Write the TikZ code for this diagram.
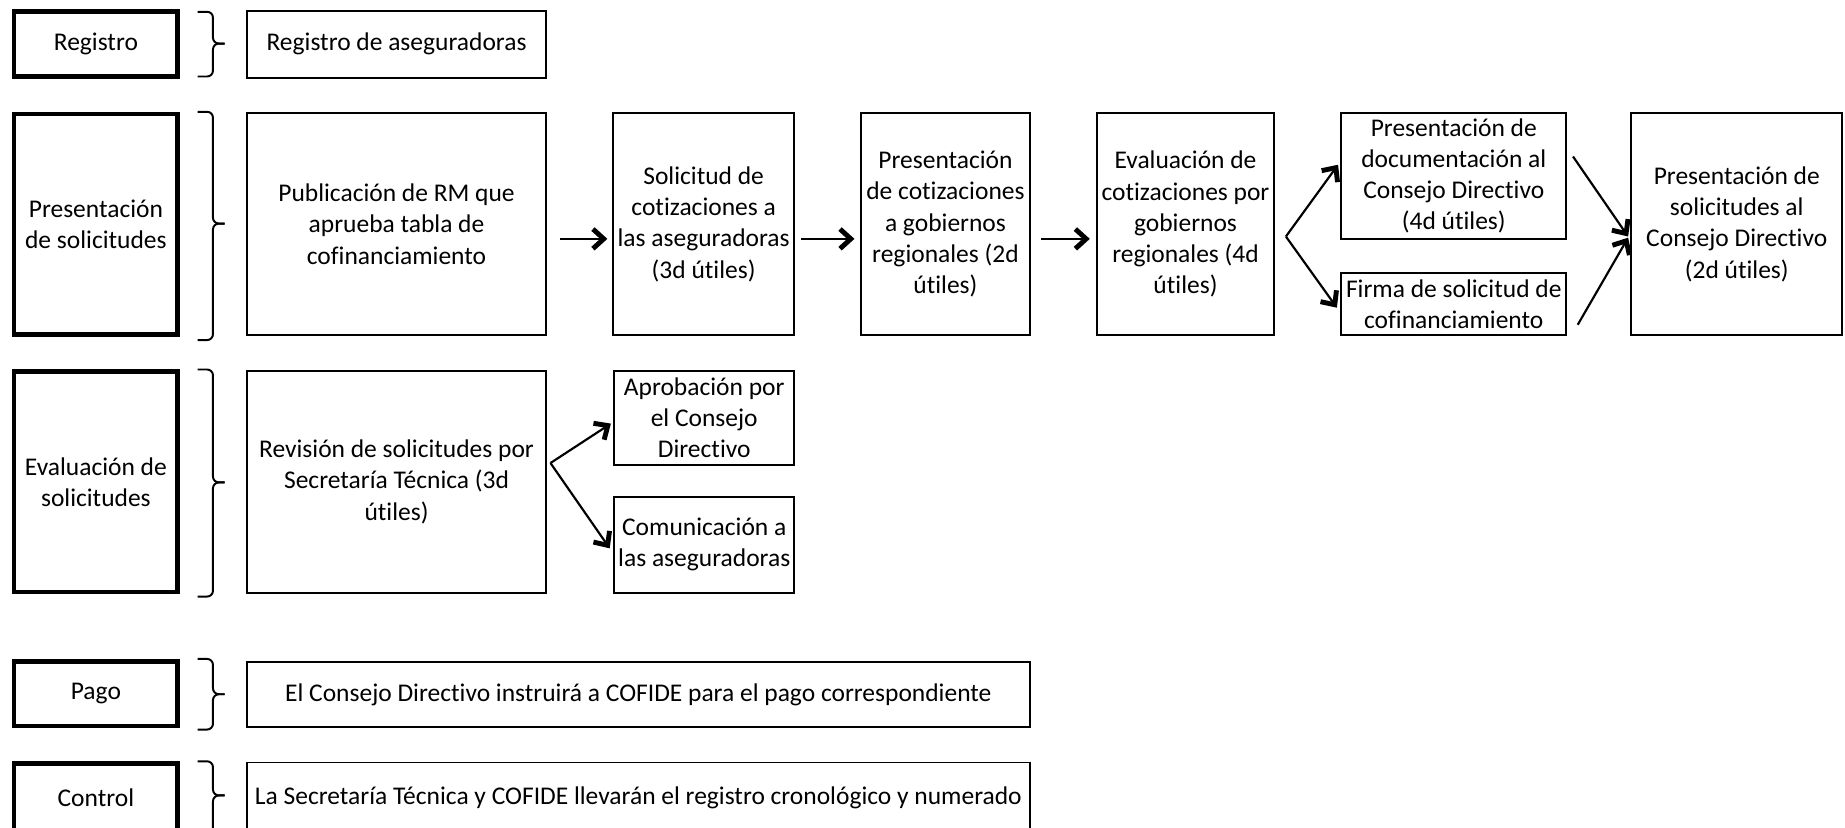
\documentclass[tikz,border=0pt]{standalone}
\usepackage{fontspec}
\setmainfont{Carlito}[Ligatures=NoCommon]
\usetikzlibrary{arrows.meta,calc}
\begin{document}
\begin{tikzpicture}[x=0.6pt,y=-0.6pt,
  txt/.style={font=\fontsize{13pt}{15.9pt}\selectfont, align=center, inner sep=0pt},
  thinbox/.style={txt, draw, line width=1pt},
  thickbox/.style={txt, draw, line width=2.4pt},
  sz/.style 2 args={minimum width=#1*0.6pt, minimum height=#2*0.6pt},
  arr/.style={line width=1.1pt, -{Straight Barb[length=5.5pt,width=10pt,line width=2.5pt]}},
  bracestyle/.style={line width=1pt, rounded corners=3pt}]
\useasboundingbox (0,0) rectangle (1568,703);
\fill[white] (0,0) rectangle (1568,703);
\clip (0,0) rectangle (1568,703);

% left column
\node[thickbox, sz={139}{55}] (reg) at (81.5,37.5) {Registro};
\node[thickbox, sz={139}{187}] (pres) at (81.5,190.5) {Presentación\\de solicitudes};
\node[thickbox, sz={139}{187}] (eval) at (81.5,409.5) {Evaluación de\\solicitudes};
\node[thickbox, sz={139}{55}] (pago) at (81.5,589.5) {Pago};
\node[thickbox, sz={139}{58}] (ctrl) at (81.5,678) {Control};

% braces
\newcommand{\mybrace}[3]{%
  \draw[bracestyle] (168,#1) -- (181,#1) -- (181,#2) -- (191,#2);
  \draw[bracestyle] (191,#2) -- (181,#2) -- (181,#3) -- (168,#3);}
\mybrace{10}{37}{65}
\mybrace{95}{190}{289}
\mybrace{314}{410}{507}
\mybrace{560}{590}{620}
\mybrace{647}{676}{720}

% row 1
\node[thinbox, sz={254}{57}] (regA) at (337,37.5) {Registro de aseguradoras};

% row 2
\node[thinbox, sz={254}{189}] (pub) at (337,190.5) {Publicación de RM que\\aprueba tabla de\\cofinanciamiento};
\node[thinbox, sz={154}{189}] (sol) at (598,190.5) {Solicitud de\\cotizaciones a\\las aseguradoras\\(3d útiles)};
\node[thinbox, sz={143}{189}] (pcot) at (803.5,190.5) {Presentación\\de cotizaciones\\a gobiernos\\regionales (2d\\útiles)};
\node[thinbox, sz={151}{189}] (ecot) at (1007.5,190.5) {Evaluación de\\cotizaciones por\\gobiernos\\regionales (4d\\útiles)};
\node[thinbox, sz={191}{107}] (pdoc) at (1235.5,149.5) {Presentación de\\documentación al\\Consejo Directivo\\(4d útiles)};
\node[thinbox, sz={191}{53}] (firma) at (1235.5,258.5) {Firma de solicitud de\\cofinanciamiento};
\node[thinbox, sz={179}{189}] (psol) at (1476,190.5) {Presentación de\\solicitudes al\\Consejo Directivo\\(2d útiles)};

% row 3
\node[thinbox, sz={254}{189}] (rev) at (337,409.5) {Revisión de solicitudes por\\Secretaría Técnica (3d\\útiles)};
\node[thinbox, sz={153}{80}] (apro) at (598.5,355) {Aprobación por\\el Consejo\\Directivo};
\node[thinbox, sz={153}{82}] (com) at (598.5,463) {Comunicación a\\las aseguradoras};

% rows 4-5
\node[thinbox, sz={665}{55}] (cons) at (542.5,590.5) {El Consejo Directivo instruirá a COFIDE para el pago correspondiente};
\node[thinbox, sz={665}{60}] (secr) at (542.5,678) {La Secretaría Técnica y COFIDE llevarán el registro cronológico y numerado};

% arrows
\draw[arr] ($(pub.east)+(11,12.5)$) -- ($(sol.west)+(-4,12.5)$);
\draw[arr] ($(sol.east)+(5,12.5)$) -- ($(pcot.west)+(-5,12.5)$);
\draw[arr] ($(pcot.east)+(9,12.5)$) -- ($(ecot.west)+(-5,12.5)$);
\coordinate (f1) at ($(ecot.east)+(9,10.5)$);
\draw[arr] (f1) -- ($(pdoc.west)+(-2,-9.5)$);
\draw[arr] (f1) -- ($(firma.west)+(-3,3)$);
\draw[arr] ($(pdoc.east)+(5,-16.5)$) -- ($(psol.west)+(-2,10.5)$);
\draw[arr] ($(firma.east)+(9,17.5)$) -- ($(psol.west)+(-2,11.5)$);
\coordinate (f2) at ($(rev.east)+(3,-16)$);
\draw[arr] (f2) -- ($(apro.west)+(-2,5)$);
\draw[arr] (f2) -- ($(com.west)+(-3,3)$);
\end{tikzpicture}
\end{document}
